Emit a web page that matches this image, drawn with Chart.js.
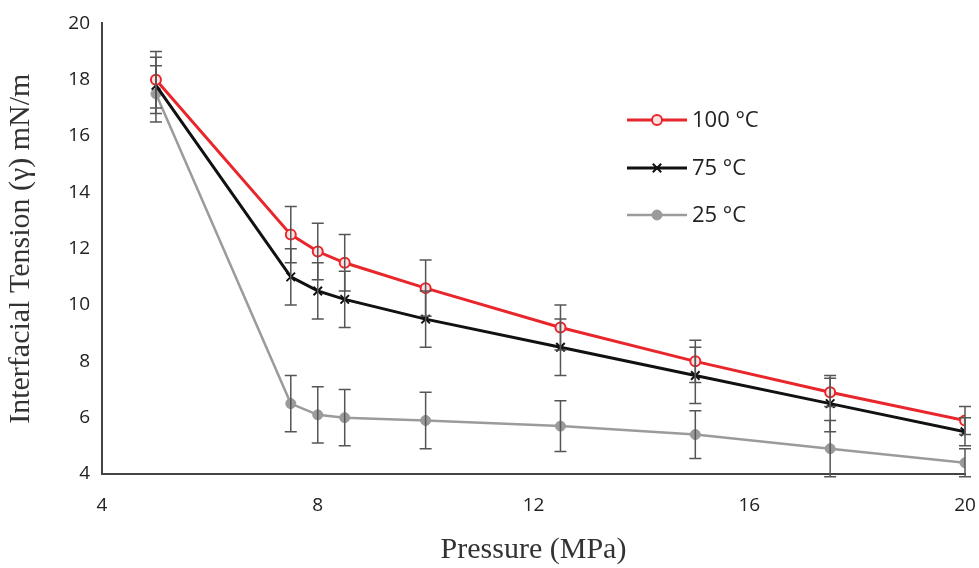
<!DOCTYPE html>
<html lang="en">
<head>
    <meta charset="UTF-8">
    <title>Interfacial Tension vs Pressure</title>
    <script src="https://cdn.jsdelivr.net/npm/chart.js"></script>
    <style>
        body { margin: 0; background: #fff; }
        #wrap { width: 979px; height: 568px; }
    </style>
</head>
<body>
    <div id="wrap"><canvas id="chart" width="979" height="568"></canvas></div>
    <script>
        // pressure values (MPa)
        const pressure = [5, 7.5, 8, 8.5, 10, 12.5, 15, 17.5, 20];
        const ift100 = [18.0, 12.5, 11.9, 11.5, 10.6, 9.2, 8.0, 6.9, 5.9];
        const ift75 = [17.8, 11.0, 10.5, 10.2, 9.5, 8.5, 7.5, 6.5, 5.5];
        const ift25 = [17.5, 6.5, 6.1, 6.0, 5.9, 5.7, 5.4, 4.9, 4.4];
        const err100 = [1, 1, 1, 1, 1, 0.8, 0.75, 0.5, 0.5];
        const err75 = [1, 1, 1, 1, 1, 1, 1, 1, 0.5];
        const err25 = [1, 1, 1, 1, 1, 0.9, 0.85, 1, 0.5];
        const seriesNames = ["100 °C", "75 °C", "25 °C"];

        const toXY = (ys) => ys.map((y, i) => ({ x: pressure[i], y: y }));

        // error bars drawn from each dataset's errors array
        const errorBars = {
            id: "errorBars",
            afterDatasetsDraw(chart) {
                const { ctx, scales: { x, y } } = chart;
                ctx.save();
                ctx.strokeStyle = "#555";
                ctx.lineWidth = 1.5;
                chart.data.datasets.forEach((ds) => {
                    ds.data.forEach((p, i) => {
                        const e = ds.errors[i];
                        const px = x.getPixelForValue(p.x);
                        const top = y.getPixelForValue(p.y + e);
                        const bot = y.getPixelForValue(p.y - e);
                        ctx.beginPath();
                        ctx.moveTo(px, top); ctx.lineTo(px, bot);
                        ctx.moveTo(px - 6, top); ctx.lineTo(px + 6, top);
                        ctx.moveTo(px - 6, bot); ctx.lineTo(px + 6, bot);
                        ctx.stroke();
                    });
                });
                ctx.restore();
            }
        };

        // legend drawn inside plot area like the original
        const innerLegend = {
            id: "innerLegend",
            afterDraw(chart) {
                const ctx = chart.ctx;
                const x0 = 627, x1 = 687, rows = [120, 168, 215];
                const cx = (x0 + x1) / 2;
                ctx.save();
                chart.data.datasets.forEach((ds, i) => {
                    const yy = rows[i];
                    ctx.strokeStyle = ds.borderColor;
                    ctx.lineWidth = ds.borderWidth;
                    ctx.beginPath();
                    ctx.moveTo(x0, yy); ctx.lineTo(x1, yy);
                    ctx.stroke();
                    ctx.fillStyle = ds.pointBackgroundColor;
                    ctx.strokeStyle = ds.pointBorderColor;
                    ctx.lineWidth = ds.pointBorderWidth;
                    ctx.beginPath();
                    if (ds.pointStyle === "crossRot") {
                        const r = ds.pointRadius * 0.7;
                        ctx.moveTo(cx - r, yy - r); ctx.lineTo(cx + r, yy + r);
                        ctx.moveTo(cx + r, yy - r); ctx.lineTo(cx - r, yy + r);
                        ctx.stroke();
                    } else {
                        ctx.arc(cx, yy, ds.pointRadius, 0, Math.PI * 2);
                        ctx.fill();
                        ctx.stroke();
                    }
                    ctx.fillStyle = "#222";
                    ctx.font = "22px 'Open Sans', sans-serif";
                    ctx.textBaseline = "middle";
                    ctx.textAlign = "left";
                    ctx.fillText(seriesNames[i], x1 + 5, yy + 1);
                });
                ctx.restore();
            }
        };

        const ctx = document.getElementById("chart").getContext("2d");
        new Chart(ctx, {
            type: "line",
            data: {
                datasets: [
                    {
                        label: seriesNames[0],
                        data: toXY(ift100),
                        errors: err100,
                        borderColor: "#e8262b",
                        borderWidth: 3,
                        pointStyle: "circle",
                        pointRadius: 5,
                        pointBackgroundColor: "#fbe3e3",
                        pointBorderColor: "#e8262b",
                        pointBorderWidth: 2,
                    },
                    {
                        label: seriesNames[1],
                        data: toXY(ift75),
                        errors: err75,
                        borderColor: "#111",
                        borderWidth: 3,
                        pointStyle: "crossRot",
                        pointRadius: 6,
                        pointBackgroundColor: "#111",
                        pointBorderColor: "#111",
                        pointBorderWidth: 2,
                    },
                    {
                        label: seriesNames[2],
                        data: toXY(ift25),
                        errors: err25,
                        borderColor: "#9b9b9b",
                        borderWidth: 2.5,
                        pointStyle: "circle",
                        pointRadius: 5,
                        pointBackgroundColor: "#9b9b9b",
                        pointBorderColor: "#9b9b9b",
                        pointBorderWidth: 1,
                    },
                ],
            },
            options: {
                responsive: false,
                animation: false,
                layout: { padding: { top: 20, right: 14, left: 0, bottom: 0 } },
                plugins: {
                    legend: { display: false },
                    tooltip: { enabled: false },
                },
                scales: {
                    x: {
                        type: "linear",
                        min: 4,
                        max: 20,
                        afterFit: (s) => { s.height = 94; s.paddingRight = 4; },
                        grid: { display: false, drawTicks: false },
                        border: { display: true, color: "#444", width: 2 },
                        ticks: {
                            stepSize: 4,
                            padding: 20,
                            color: "#222",
                            font: { family: "'Open Sans', sans-serif", size: 19 },
                        },
                        title: {
                            display: true,
                            text: "Pressure (MPa)",
                            color: "#333",
                            font: { family: "'Liberation Serif', serif", size: 30 },
                            padding: { top: 0, bottom: 0 },
                        },
                    },
                    y: {
                        min: 4,
                        max: 20,
                        afterFit: (s) => { s.width = 102; },
                        grid: { display: false, drawTicks: false },
                        border: { display: true, color: "#444", width: 2 },
                        ticks: {
                            stepSize: 2,
                            padding: 12,
                            color: "#222",
                            font: { family: "'Open Sans', sans-serif", size: 19 },
                        },
                        title: {
                            display: true,
                            text: "Interfacial Tension (γ) mN/m",
                            color: "#333",
                            font: { family: "'Liberation Serif', serif", size: 30 },
                            padding: { top: 3, bottom: 4 },
                        },
                    },
                },
            },
            plugins: [errorBars, innerLegend],
        });
    </script>
</body>
</html>
